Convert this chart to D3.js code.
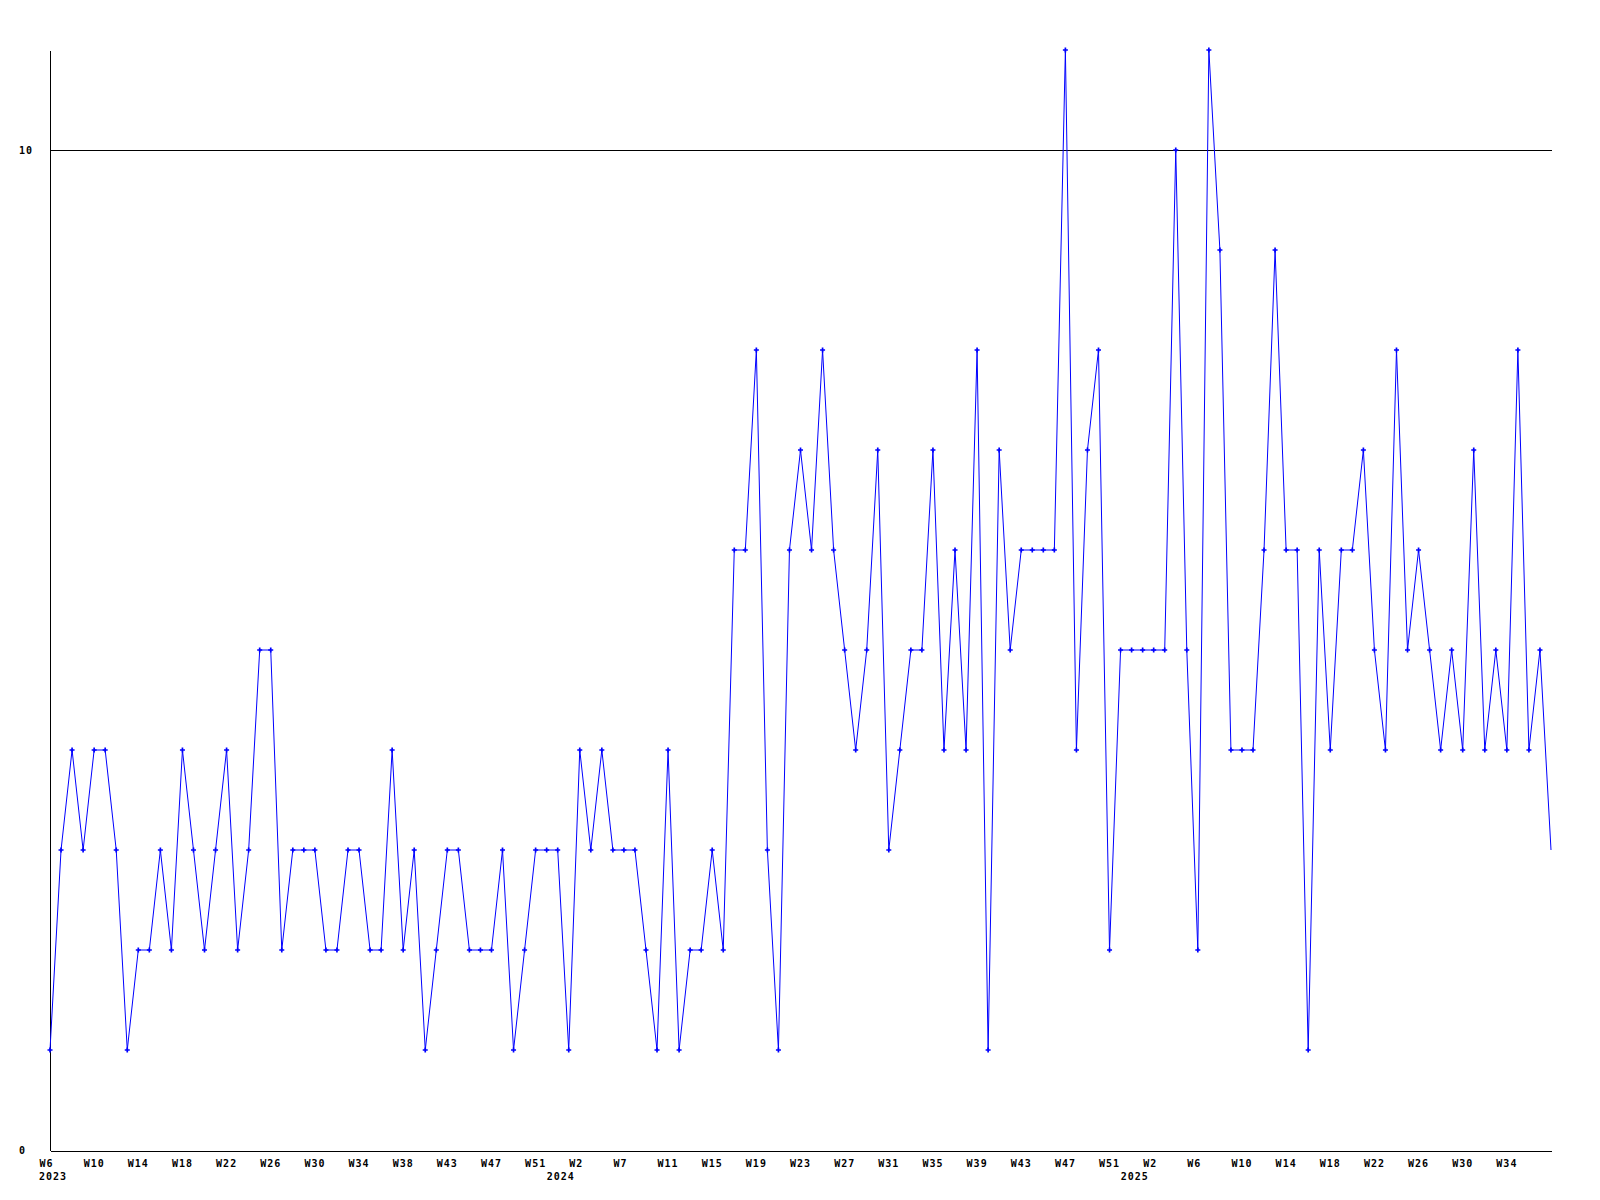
<!DOCTYPE html>
<html><head><meta charset="utf-8">
<script src="https://cdn.jsdelivr.net/npm/d3@7"></script>
<style>
body{margin:0;background:#fff}
text{font-family:"DejaVu Sans Mono",monospace;font-weight:bold;font-size:10px;letter-spacing:1px;fill:#000}
</style>
</head><body>
<svg id="chart" width="1600" height="1200"></svg>
<script>
// ---- data ----
const weekRanges = [[2023, 6, 52], [2024, 1, 52], [2025, 1, 38]];
const weeks = [];
weekRanges.forEach(([yr, a, b]) => { for (let w = a; w <= b; w++) weeks.push(yr + "-W" + w); });

const values = [
  1,3,4,3,4,4,3,1,2,2,3,2,4,3,2,3,4,2,3,5,5,2,3,3,3,2,2,3,3,2,2,4,2,3,1,2,3,3,2,2,2,3,1,2,3,3,3,1,
  4,3,4,3,3,3,2,1,4,1,2,2,3,2,6,6,8,3,1,6,7,6,8,6,5,4,5,7,3,4,5,5,7,4,6,4,8,1,7,5,6,6,6,6,11,4,
  7,8,2,5,5,5,5,5,10,5,2,11,9,4,4,4,6,9,6,6,1,6,4,6,6,7,5,4,8,5,6,5,4,5,4,7,4,5,4,8,4,5,3
];

const tickLabels = ["W6","W10","W14","W18","W22","W26","W30","W34","W38","W43","W47","W51",
  "W2","W7","W11","W15","W19","W23","W27","W31","W35","W39","W43","W47","W51",
  "W2","W6","W10","W14","W18","W22","W26","W30","W34"];
const tickEvery = 4;
const yearLabels = ["2023", "2024", "2025"];
const yTicks = [0, 10];
const yMax = 11;

// ---- layout ----
const mLeft = 50, mRight = 1551, mTop = 50, mBottom = 1150;
const svg = d3.select("#chart");
svg.append("rect").attr("width", 1600).attr("height", 1200).attr("fill", "#fff");

const x = d3.scaleLinear().domain([0, weeks.length - 1]).range([mLeft, mRight]);
const y = d3.scaleLinear().domain([0, yMax]).range([mBottom, mTop]);

// gridline
const g = svg.append("g").attr("transform", "translate(0.5,0.5)");
g.selectAll("line.grid").data(yTicks.filter(v => v > 0)).enter().append("line")
  .attr("x1", mLeft).attr("x2", mRight).attr("y1", d => y(d)).attr("y2", d => y(d))
  .attr("stroke", "#000").attr("stroke-width", 1).attr("shape-rendering", "crispEdges");

// y axis line
g.append("line").attr("x1", mLeft).attr("x2", mLeft).attr("y1", mTop).attr("y2", mBottom)
  .attr("stroke", "#000").attr("shape-rendering", "crispEdges");

// x axis
const tickIdx = tickLabels.map((_, i) => i * tickEvery);
const xAxis = d3.axisBottom(x).tickValues(tickIdx).tickSize(0).tickSizeOuter(0)
  .tickFormat((d, i) => tickLabels[i]);
const xa = svg.append("g").attr("transform", `translate(0,${mBottom + 0.5})`).call(xAxis);
xa.select(".domain").attr("stroke", "#000").attr("shape-rendering", "crispEdges");
xa.selectAll("text").attr("text-anchor", "start").attr("dx", -11).attr("y", 16).attr("dy", 0)
  .attr("fill", "#000");
xa.attr("font-family", null).attr("font-size", null);

// year labels
const yearIdx = yearLabels.map(yr => weeks.findIndex(w => w.startsWith(yr)));
svg.selectAll("text.year").data(yearLabels).enter().append("text").attr("class", "year")
  .attr("x", (d, i) => Math.max(x(yearIdx[i]) - 22, x(0) - 11))
  .attr("y", 1180).text(d => d);

// y axis labels
const yAxis = d3.axisLeft(y).tickValues(yTicks).tickSize(0).tickFormat(d3.format("d"));
const ya = svg.append("g").attr("transform", `translate(${mLeft},0)`).call(yAxis);
ya.select(".domain").remove();
ya.selectAll("text").attr("text-anchor", "start").attr("x", -31).attr("dy", "0.35em")
  .attr("fill", "#000");
ya.attr("font-family", null).attr("font-size", null);

// line
const line = d3.line().x((d, i) => x(i)).y(d => y(d));
svg.append("path").datum(values).attr("d", line)
  .attr("fill", "none").attr("stroke", "#0000ff").attr("stroke-width", 1);

// markers (last point is unmarked in the reference)
const sym = d3.symbol().type(d3.symbolCross).size(14);
svg.selectAll("path.mk").data(values.slice(0, -1)).enter().append("path").attr("class", "mk")
  .attr("d", sym).attr("transform", (d, i) => `translate(${x(i)},${y(d)})`)
  .attr("fill", "#0000ff");
</script>
</body></html>
